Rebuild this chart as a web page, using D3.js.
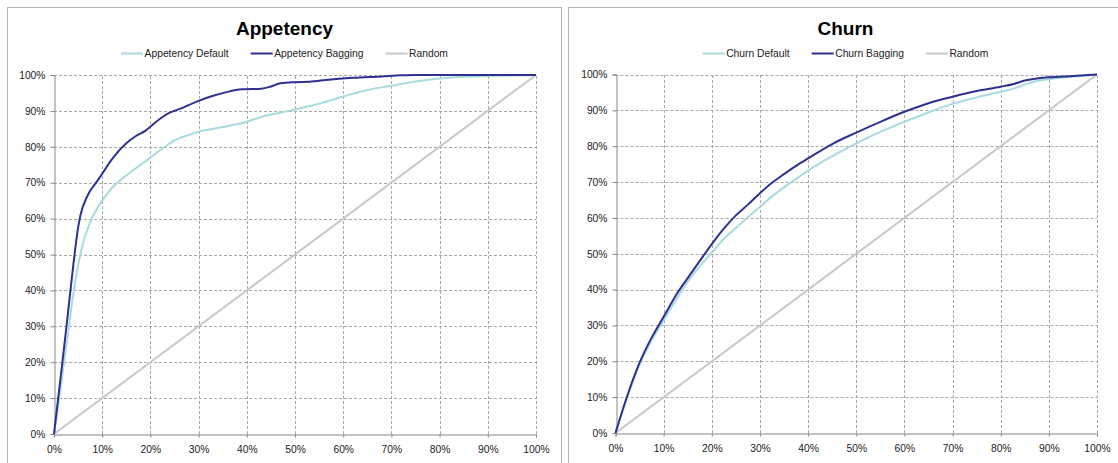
<!DOCTYPE html>
<html><head><meta charset="utf-8">
<script src="https://cdn.jsdelivr.net/npm/d3@7"></script>
<style>
body{margin:0;background:#fff;}
svg{display:block;font-family:"Liberation Sans",Arial,sans-serif;}
</style></head>
<body><svg id="c" width="1118" height="463"></svg>
<script>
// ---- data (x = % of population, y = % of positives captured) ----
const xTicks = [0,10,20,30,40,50,60,70,80,90,100];
const yTicks = [0,10,20,30,40,50,60,70,80,90,100];

const appDefaultX = [0,1,2,3,4,5,6,8,10,12,15,18,20,23,25,28,30,35,40,43,47,50,55,60,65,70,75,80,85,90,100];
const appDefaultY = [0,9,19,29,39,47,53,60.5,65,68.5,72,75,77,80,81.8,83.3,84.2,85.5,87,88.3,89.5,90.4,92,94,95.8,97,98.2,99,99.5,99.7,100];

const appBaggingX = [0,1,2,3,4,5,5.5,7,9,10,12,15,17,19,20,22,24,26,30,33,36,39,43,45,47,50,53,57,62,68,72,75,100];
const appBaggingY = [0,11.5,23,35,47,57.5,61,66.5,70.5,72.5,76.5,81,83,84.5,85.6,87.8,89.5,90.5,92.8,94.2,95.3,96,96.2,96.8,97.7,98,98.1,98.7,99.2,99.6,99.9,100,100];

const churnDefaultX = [0,2.5,5,7.5,10,12.5,15,17.5,20,22.5,25,27.5,30,32.5,35,37.5,40,45,50,55,60,65,70,75,80,82.5,85,87.5,90,95,100];
const churnDefaultY = [0,10.2,19,25.8,31.5,37,42.2,46.5,50.3,54.2,57.2,60.2,63.1,66,68.5,70.9,73.2,77.2,80.8,84,86.8,89.4,91.8,93.6,95.2,96,97.2,98.2,98.7,99.4,100];

const churnBaggingX = [0,2.5,5,7.5,10,12.5,15,17.5,20,22.5,25,27.5,30,32.5,35,37.5,40,45,50,55,60,65,70,75,80,82.5,85,87.5,90,95,100];
const churnBaggingY = [0,10.6,19.6,26.6,32.4,38.3,43.2,48,52.7,57,60.7,63.7,66.9,69.8,72.2,74.5,76.6,80.6,83.8,86.8,89.6,92,93.8,95.4,96.6,97.3,98.3,98.9,99.2,99.6,100];

const randomX = [0,100];
const randomY = [0,100];

const panelTitles = ["Appetency","Churn"];
const legendLabels = [
  ["Appetency Default","Appetency Bagging","Random"],
  ["Churn Default","Churn Bagging","Random"]
];
const seriesColors = ["#a6dcdf","#2e3192","#c8c8c8"];

// ---- drawing ----
const svg = d3.select("#c");
const panels = [
  {bx:7.5, bw:554, x0:54, x1:536, y0:434, y1:75,
   series:[[appDefaultX,appDefaultY],[appBaggingX,appBaggingY],[randomX,randomY]]},
  {bx:568.5, bw:554, x0:615.5, x1:1097, y0:433, y1:74.5,
   series:[[churnDefaultX,churnDefaultY],[churnBaggingX,churnBaggingY],[randomX,randomY]]}
];

panels.forEach((p,pi)=>{
  const g = svg.append("g");
  g.append("rect").attr("x",p.bx).attr("y",7.5).attr("width",p.bw).attr("height",470)
    .attr("fill","#fff").attr("stroke","#b4b4b4").attr("stroke-width",1);

  const x = d3.scaleLinear().domain([0,100]).range([p.x0,p.x1]);
  const y = d3.scaleLinear().domain([0,100]).range([p.y0,p.y1]);

  // grid
  g.append("g").selectAll("line").data(yTicks.filter(d=>d>0)).join("line")
    .attr("x1",p.x0).attr("x2",p.x1).attr("y1",d=>Math.round(y(d))+0.5).attr("y2",d=>Math.round(y(d))+0.5)
    .attr("stroke","#a8a8a8").attr("stroke-dasharray","3,2").attr("stroke-width",1);
  g.append("g").selectAll("line").data(xTicks.filter(d=>d>0)).join("line")
    .attr("y1",p.y0).attr("y2",p.y1).attr("x1",d=>Math.round(x(d))+0.5).attr("x2",d=>Math.round(x(d))+0.5)
    .attr("stroke","#a8a8a8").attr("stroke-dasharray","3,2").attr("stroke-width",1);

  // axes
  const fmt = d=>d+"%";
  const xa = g.append("g").attr("transform",`translate(0,${Math.round(p.y0)+0.5})`)
    .call(d3.axisBottom(x).tickValues(xTicks).tickFormat(fmt).tickSize(3).tickPadding(8));
  const ya = g.append("g").attr("transform",`translate(${Math.round(p.x0)+0.5},0)`)
    .call(d3.axisLeft(y).tickValues(yTicks).tickFormat(fmt).tickSize(4).tickPadding(5));
  [xa,ya].forEach(a=>{
    a.select(".domain").attr("stroke","#868686");
    a.selectAll(".tick line").attr("stroke","#868686");
    a.selectAll("text").attr("font-size","10.3px").attr("fill","#222")
      .attr("font-family","'Liberation Sans',Arial,sans-serif");
  });

  // lines
  const line = d3.line().x(d=>x(d[0])).y(d=>y(d[1])).curve(d3.curveMonotoneX);
  [2,0,1].forEach(si=>{
    const [xs,ys] = p.series[si];
    g.append("path").datum(xs.map((v,i)=>[v,ys[i]]))
      .attr("d",line).attr("fill","none").attr("stroke",seriesColors[si])
      .attr("stroke-width",2).attr("stroke-linejoin","round");
  });

  // title
  const cx = p.bx + p.bw/2;
  g.append("text").attr("x",cx).attr("y",34.5).attr("text-anchor","middle")
    .attr("font-size","19px").attr("font-weight","bold").attr("fill","#000").text(panelTitles[pi]);

  // legend
  const lg = g.append("g");
  let cur = 0;
  legendLabels[pi].forEach((lab,i)=>{
    const it = lg.append("g");
    it.append("line").attr("x1",0).attr("x2",22).attr("y1",0).attr("y2",0)
      .attr("stroke",seriesColors[i]).attr("stroke-width",2);
    const t = it.append("text").attr("x",23.5).attr("y",3.6).attr("font-size","10.3px").attr("fill","#222").text(lab);
    const w = 23.5 + t.node().getComputedTextLength();
    it.attr("transform",`translate(${cur},0)`);
    cur += w + 22;
  });
  const total = cur - 22;
  lg.attr("transform",`translate(${cx - total/2},53.5)`);
});
</script>
</body></html>
